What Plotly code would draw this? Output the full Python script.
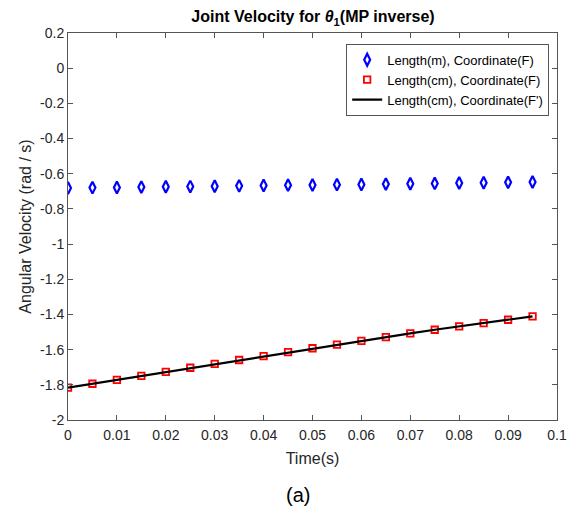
import plotly.graph_objects as go

time_s = [0.000, 0.005, 0.010, 0.015, 0.020, 0.025, 0.030, 0.035, 0.040, 0.045,
          0.050, 0.055, 0.060, 0.065, 0.070, 0.075, 0.080, 0.085, 0.090, 0.095]
vel_m_F = [-0.681, -0.679, -0.678, -0.676, -0.674, -0.673, -0.671, -0.669, -0.667, -0.665,
           -0.664, -0.662, -0.661, -0.659, -0.657, -0.655, -0.653, -0.651, -0.649, -0.647]
vel_cm_F = [-1.816, -1.794, -1.772, -1.749, -1.726, -1.703, -1.681, -1.659, -1.637, -1.614,
            -1.592, -1.571, -1.550, -1.529, -1.508, -1.487, -1.468, -1.449, -1.430, -1.411]
vel_cm_Fp = vel_cm_F

x_ticks = [0, 0.01, 0.02, 0.03, 0.04, 0.05, 0.06, 0.07, 0.08, 0.09, 0.1]
x_tick_labels = ["0", "0.01", "0.02", "0.03", "0.04", "0.05", "0.06", "0.07", "0.08", "0.09", "0.1"]
y_ticks = [-2, -1.8, -1.6, -1.4, -1.2, -1, -0.8, -0.6, -0.4, -0.2, 0, 0.2]
y_tick_labels = ["-2", "-1.8", "-1.6", "-1.4", "-1.2", "-1", "-0.8", "-0.6", "-0.4", "-0.2", "0", "0.2"]

FONT = "Liberation Sans, Arial, sans-serif"

fig = go.Figure()
fig.add_trace(go.Scatter(
    x=time_s, y=vel_m_F, mode="markers", name="Length(m), Coordinate(F)",
    marker=dict(symbol="diamond-tall-open", size=8.5, color="#0000ff", line=dict(width=2.2, color="#0000ff"))))
fig.add_trace(go.Scatter(
    x=time_s, y=vel_cm_F, mode="markers", name="Length(cm), Coordinate(F)",
    marker=dict(symbol="square-open", size=6.5, color="#ff0000", line=dict(width=1.8, color="#ff0000"))))
fig.add_trace(go.Scatter(
    x=time_s, y=vel_cm_Fp, mode="lines", name="Length(cm), Coordinate(F')",
    line=dict(color="black", width=2.2)))

axis_common = dict(
    showgrid=False, zeroline=False, showline=True, linecolor="#555555", linewidth=1,
    mirror="ticks", ticks="inside", ticklen=5, tickcolor="#555555", tickwidth=1,
    tickfont=dict(family=FONT, size=14, color="#262626"),
    automargin=False,
)

# page body has an 8px margin, so the figure is sized to fit the 576x514 window
fig.update_layout(
    width=568, height=506,
    margin=dict(l=60, r=19, t=25, b=94),
    paper_bgcolor="white", plot_bgcolor="white",
    title=dict(text="<b>Joint Velocity for <i>θ</i><sub>1</sub>(MP inverse)</b>",
               x=0.537, xanchor="center", y=0.983, yanchor="middle",
               font=dict(family=FONT, size=16, color="black")),
    xaxis=dict(range=[0, 0.1], tickvals=x_ticks, ticktext=x_tick_labels,
               ticklabelstandoff=2,
               title=dict(text="Time(s)", font=dict(family=FONT, size=16, color="#262626"), standoff=11),
               **axis_common),
    yaxis=dict(range=[-2, 0.2], tickvals=y_ticks, ticktext=y_tick_labels,
               title=dict(text="Angular Velocity (rad / s)", font=dict(family=FONT, size=16, color="#262626"), standoff=4),
               **axis_common),
    legend=dict(x=0.984, y=0.972, xanchor="right", yanchor="top",
                bgcolor="white", bordercolor="#555555", borderwidth=1,
                font=dict(family=FONT, size=13, color="black"),
                itemwidth=30, tracegroupgap=0),
    showlegend=True,
    annotations=[dict(text="(a)", xref="paper", yref="paper", x=0.47, y=-0.195,
                      xanchor="center", yanchor="middle", showarrow=False,
                      font=dict(family=FONT, size=20, color="black"))],
)

fig.write_html("out.html")
